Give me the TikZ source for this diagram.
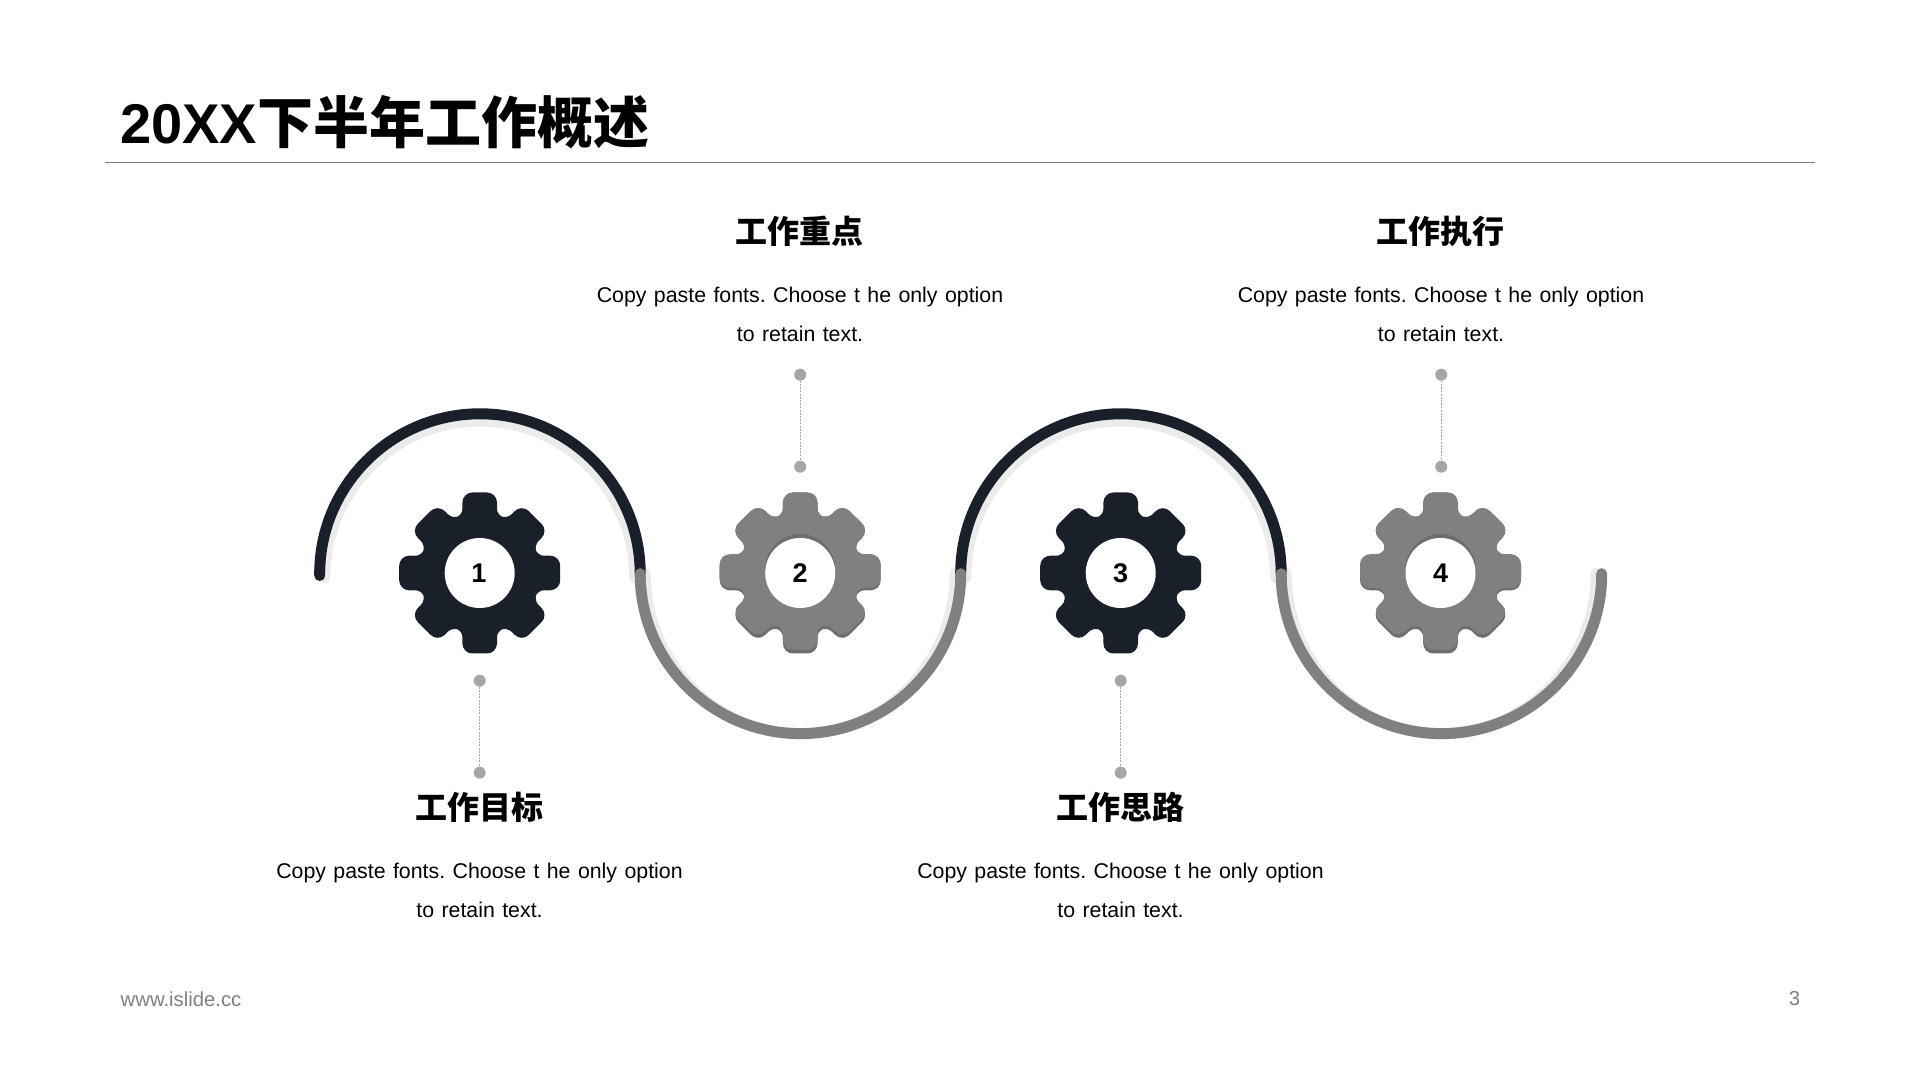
\documentclass[tikz,border=0pt]{standalone}
\usepackage{fontspec}
\setmainfont{Liberation Sans}
\newfontfamily\cjk{Noto Sans CJK SC}
\newfontfamily\bodyfam{Liberation Sans}[WordSpace=1.25,PunctuationSpace=0]
\definecolor{ink}{HTML}{1A202A}
\definecolor{midgray}{HTML}{808080}
\definecolor{lowgray}{HTML}{6E6E6E}
\definecolor{shade}{HTML}{EBEBEB}
\definecolor{dotgray}{HTML}{A6A6A6}
\newcommand{\gearoutline}{%
  (80.5,0)
  \foreach \a/\r/\w/\rn/\wn in {0/80.5/17.3/78.5/19,45/78.5/19/80.5/17.3,90/80.5/17.3/78.5/19,135/78.5/19/80.5/17.3,180/80.5/17.3/78.5/19,225/78.5/19/80.5/17.3,270/80.5/17.3/78.5/19,315/78.5/19/80.5/17.3}{
    [rounded corners=10pt] -- ([rotate=\a]\r,\w)
    [rounded corners=6pt] -- ([rotate=\a]58,\w)
    -- ([rotate=\a+45]58,-\wn)
    [rounded corners=10pt] -- ([rotate=\a+45]\rn,-\wn)
  } -- cycle}
\tikzset{
  x=1pt,y=1pt,
  darkarc/.style={draw=ink,line width=11pt,line cap=round},
  grayarc/.style={draw=midgray,line width=11pt,line cap=round},
  shadearc/.style={draw=shade,line width=11pt,line cap=round},
  hubnum/.style={circle,fill=white,minimum size=70pt,inner sep=0pt,font=\bfseries\fontsize{27}{27}\selectfont,text=black},
  dotmark/.style={circle,fill=dotgray,minimum size=12pt,inner sep=0pt},
  stem/.style={draw=dotgray,line width=1pt,dash pattern=on 2pt off 1.2pt},
  headtxt/.style={font=\cjk\bfseries\fontsize{32}{32}\selectfont,text=black,inner sep=0pt},
  bodytxt/.style={font=\bodyfam\fontsize{21.33}{39}\selectfont,text=black,align=center,inner sep=0pt},
  foottxt/.style={font=\fontsize{20.3}{24}\selectfont,text=midgray,inner sep=0pt},
}
\begin{document}
\begin{tikzpicture}
\useasboundingbox[fill=white] (0,0) rectangle (1920,1080);
% title
\node[anchor=base west,inner sep=0pt,font=\bfseries\fontsize{56}{56}\selectfont,text=black] (title) at (120,936.3) {20XX{\cjk 下半年工作概述}};
\coordinate (ruleL) at (105,917.5);
\coordinate (ruleR) at (1815,917.5);
\draw[midgray,line width=1.1pt] (ruleL) -- (ruleR);
% soft shades under the wave
\draw[shadearc] (324.7,502) arc[start angle=180,end angle=0,x radius=155pt,y radius=157pt];
\draw[shadearc] (965.7,502) arc[start angle=180,end angle=0,x radius=155pt,y radius=157pt];
\draw[shadearc] (645.2,507) arc[start angle=180,end angle=360,x radius=155pt,y radius=161pt];
\draw[shadearc] (1286.2,507) arc[start angle=180,end angle=360,x radius=155pt,y radius=161pt];
% wave
\draw[darkarc] (319.7,504.5) -- (319.7,506.3) arc[start angle=180,end angle=0,x radius=160.25pt,y radius=159.9pt];
\draw[darkarc] (960.7,506.3) arc[start angle=180,end angle=0,x radius=160.25pt,y radius=159.9pt];
\draw[grayarc] (640.2,506.3) arc[start angle=180,end angle=360,x radius=160.25pt,y radius=159.9pt];
\draw[grayarc] (1281.2,506.3) arc[start angle=180,end angle=360,x radius=160.25pt,y radius=159.9pt];
% gears
\begin{scope}[shift={(479.7,507)}]
  \fill[ink] \gearoutline;
\end{scope}
\begin{scope}[shift={(1120.7,507)}]
  \fill[ink] \gearoutline;
\end{scope}
\begin{scope}[shift={(800.2,507)}]
  \fill[lowgray] \gearoutline;
  \begin{scope}[shift={(0,1.9)},yscale=0.975]
    \fill[midgray] \gearoutline;
  \end{scope}
  \fill[lowgray] (0,4) circle[radius=35pt];
\end{scope}
\begin{scope}[shift={(1440.5,507)}]
  \fill[lowgray] \gearoutline;
  \begin{scope}[shift={(0,1.9)},yscale=0.975]
    \fill[midgray] \gearoutline;
  \end{scope}
  \fill[lowgray] (0,4) circle[radius=35pt];
\end{scope}
\node[hubnum,text depth=0pt] (h1) at (479.7,507) {\makebox[0pt]{\kern-1.6pt 1}};
\node[hubnum] (h2) at (800.2,507) {2};
\node[hubnum] (h3) at (1120.7,507) {3};
\node[hubnum] (h4) at (1440.5,507) {4};
% stems
\node[dotmark] (d1a) at (479.7,399.3) {};
\node[dotmark] (d1b) at (479.7,307.3) {};
\node[dotmark] (d2a) at (800.2,705.3) {};
\node[dotmark] (d2b) at (800.2,613.3) {};
\node[dotmark] (d3a) at (1120.7,399.3) {};
\node[dotmark] (d3b) at (1120.7,307.3) {};
\node[dotmark] (d4a) at (1441.2,705.3) {};
\node[dotmark] (d4b) at (1441.2,613.3) {};
\draw[stem] (d1a) -- (d1b);
\draw[stem] (d2a) -- (d2b);
\draw[stem] (d3a) -- (d3b);
\draw[stem] (d4a) -- (d4b);
% labels
\node[headtxt] (t2) at (799.5,848.4) {工作重点};
\node[headtxt] (t4) at (1440.5,848.4) {工作执行};
\node[headtxt] (t1) at (479,272.9) {工作目标};
\node[headtxt] (t3) at (1120,272.9) {工作思路};
\node[bodytxt] (b2) at (800,765.2) {Copy paste fonts. Choose t he only option\\to retain text.};
\node[bodytxt] (b4) at (1441,765.2) {Copy paste fonts. Choose t he only option\\to retain text.};
\node[bodytxt] (b1) at (479.5,189.9) {Copy paste fonts. Choose t he only option\\to retain text.};
\node[bodytxt] (b3) at (1120.5,189.9) {Copy paste fonts. Choose t he only option\\to retain text.};
% footer
\node[foottxt,anchor=west] (foot) at (120.5,81) {www.islide.cc};
\node[foottxt] (page) at (1794.5,81) {3};
\end{tikzpicture}
\end{document}
